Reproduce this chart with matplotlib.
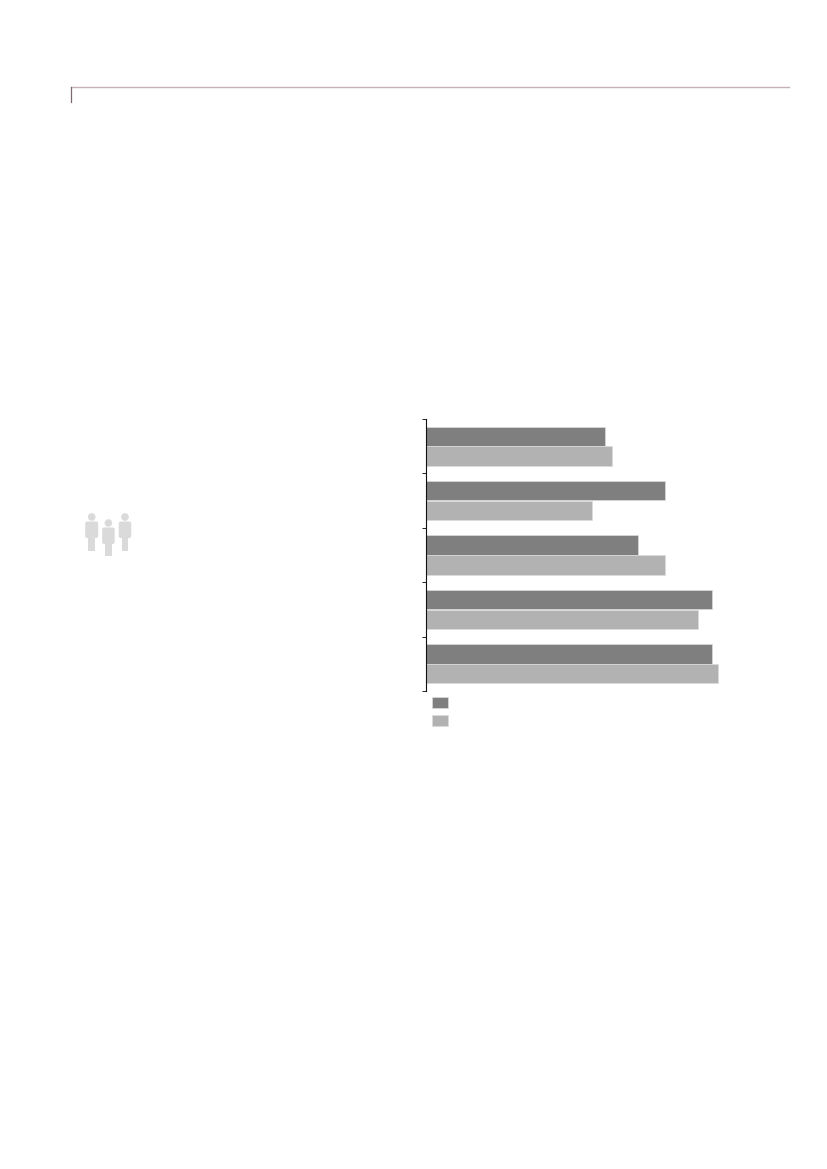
import matplotlib
matplotlib.use("Agg")
import matplotlib.pyplot as plt
from matplotlib.lines import Line2D
from matplotlib.patches import Patch, Circle, FancyBboxPatch, Rectangle

W, H = 827, 1169
series_a = [27, 36, 32, 43, 43]
series_b = [28, 25, 36, 41, 44]
categories = ["", "", "", "", ""]
color_a = "#7f7f7f"
color_b = "#b2b2b2"
edge = "#dcdcdc"
icon_color = "#dadada"

fig = plt.figure(figsize=(W / 100, H / 100), dpi=100, facecolor="white")

# pixel-space overlay for page furniture
bg = fig.add_axes([0, 0, 1, 1])
bg.set_xlim(0, W)
bg.set_ylim(H, 0)
bg.axis("off")
bg.add_line(Line2D([71, 789], [87, 87], color="#c6b2b4", lw=1.0))
bg.add_line(Line2D([71, 71], [87, 102], color="#7d6a6c", lw=0.9))


def person(cx, head_y, body_top, body_bot, leg_bot, body_w):
    bg.add_patch(Circle((cx, head_y), 3.8, fc=icon_color, ec="none"))
    bg.add_patch(FancyBboxPatch((cx - body_w / 2 + 2, body_top + 2), body_w - 4,
                                body_bot - body_top - 4,
                                boxstyle="round,pad=2", fc=icon_color, ec="none"))
    bg.add_patch(Rectangle((cx - 3.4, body_bot - 1), 6.8, leg_bot - body_bot + 1,
                           fc=icon_color, ec="none"))


person(91.7, 517, 521.5, 538, 550.5, 13)
person(108.4, 523, 527.5, 544, 555.5, 12.5)
person(125, 517, 521.5, 538, 550.5, 12.5)

# chart axes: x0=426px, y 419..691 px
scale = 6.64
ax_w = 50 * scale
ax = fig.add_axes([426 / W, 1 - 691 / H, ax_w / W, 272 / H])
ax.patch.set_alpha(0)
y = list(range(len(series_a)))
h = 0.355
off = 0.182
ax.barh([v - off for v in y], series_a, height=h, color=color_a, edgecolor=edge, linewidth=0.5)
ax.barh([v + off for v in y], series_b, height=h, color=color_b, edgecolor=edge, linewidth=0.5)
ax.set_xlim(0, 50)
ax.set_ylim(4.5, -0.5)
ax.set_yticks([v - 0.5 for v in y] + [4.5])
ax.set_yticklabels([""] * 6)
ax.set_xticks([])
for s in ("top", "right", "bottom"):
    ax.spines[s].set_visible(False)
ax.spines["left"].set_linewidth(0.8)
ax.spines["left"].set_color("#111111")
ax.tick_params(axis="y", length=2.6, width=0.7, color="#222222")

handles = [Patch(fc=color_a, ec=edge, lw=0.5), Patch(fc=color_b, ec=edge, lw=0.5)]
fig.legend(handles, ["", ""], loc="upper left",
           bbox_to_anchor=(432 / W, 1 - 696 / H), bbox_transform=fig.transFigure,
           frameon=False, fontsize=10, borderpad=0, borderaxespad=0,
           handlelength=1.15, handleheight=0.86, handletextpad=0.2, labelspacing=0.3)

fig.savefig("out.png", dpi=100, facecolor="white")
